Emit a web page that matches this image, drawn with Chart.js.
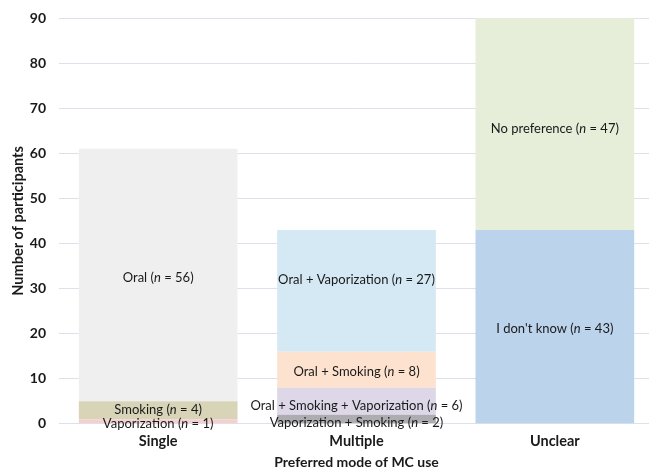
<!DOCTYPE html>
<html>
<head>
<meta charset="utf-8">
<script src="https://cdn.jsdelivr.net/npm/chart.js@4/dist/chart.umd.min.js"></script>
<style>
html,body{margin:0;padding:0;background:#fff;overflow:hidden;}
#wrap{width:649px;height:471px;position:relative;overflow:hidden;}
</style>
</head>
<body>
<div id="wrap"><canvas id="c" width="654" height="471"></canvas></div>
<script>
const categories = ['Single', 'Multiple', 'Unclear'];
const segmentNames = ['Vaporization', 'Smoking', 'Oral',
  'Vaporization + Smoking', 'Oral + Smoking + Vaporization', 'Oral + Smoking', 'Oral + Vaporization',
  "I don't know", 'No preference'];
const segmentValues = [1, 4, 56, 2, 6, 8, 27, 43, 47];
const segmentCategory = [0, 0, 0, 1, 1, 1, 1, 2, 2];
const segmentColors = ['#f5d0d0', '#d8d4b8', '#efefef', '#adacb0', '#ddd7e7', '#fde3cf', '#d4e9f3', '#bcd3ec', '#e6eed9'];
const yTicks = [0, 10, 20, 30, 40, 50, 60, 70, 80, 90];
// label nudges in pixels (style only)
const labelNudge = [2, -1.5, 1.5, 2.5, 3.5, 1, -12, 1, 4];

const FONT = 'Lato, "Open Sans", sans-serif';

const datasets = segmentNames.map((name, i) => {
  const data = categories.map((c, ci) => ci === segmentCategory[i] ? segmentValues[i] : null);
  return {
    label: name,
    data: data,
    backgroundColor: segmentColors[i],
    borderWidth: 0,
    stack: 's',
    barPercentage: 0.8,
    categoryPercentage: 1.0
  };
});

const labelPlugin = {
  id: 'segLabels',
  afterDatasetsDraw(chart) {
    const ctx = chart.ctx;
    ctx.save();
    ctx.fillStyle = '#1a1a1a';
    ctx.textBaseline = 'middle';
    chart.data.datasets.forEach((ds, di) => {
      const meta = chart.getDatasetMeta(di);
      const ci = segmentCategory[di];
      const el = meta.data[ci];
      if (!el) return;
      const cx = el.x;
      const cy = (el.y + el.base) / 2 + 1 + labelNudge[di];
      const sz = 13;
      const parts = [
        {t: segmentNames[di] + ' (', f: sz + 'px ' + FONT},
        {t: 'n', f: 'italic ' + sz + 'px ' + FONT},
        {t: ' = ' + segmentValues[di] + ')', f: sz + 'px ' + FONT}
      ];
      let w = 0;
      parts.forEach(p => { ctx.font = p.f; p.w = ctx.measureText(p.t).width; w += p.w; });
      let x = cx - w / 2;
      ctx.textAlign = 'left';
      parts.forEach(p => { ctx.font = p.f; ctx.fillText(p.t, x, cy); x += p.w; });
    });
    ctx.restore();
  }
};

new Chart(document.getElementById('c'), {
  type: 'bar',
  data: { labels: categories, datasets: datasets },
  plugins: [labelPlugin],
  options: {
    responsive: false,
    animation: false,
    layout: { padding: { left: 10, right: 0, top: 18, bottom: 0 } },
    plugins: { legend: { display: false }, tooltip: { enabled: false } },
    scales: {
      x: {
        stacked: true,
        grid: { display: false, drawTicks: false },
        border: { display: false },
        ticks: { color: '#1a1a1a', font: { family: FONT, size: 14.5, weight: 'bold' }, padding: 9 },
        title: { display: true, text: 'Preferred mode of MC use', color: '#1a1a1a', font: { family: FONT, size: 14, weight: 'bold' }, padding: { top: -5, bottom: 0 } }
      },
      y: {
        stacked: true,
        min: 0, max: 90,
        afterBuildTicks(axis) { axis.ticks = yTicks.map(v => ({ value: v })); },
        afterFit(axis) { axis.width = 49; axis.paddingTop = 0; axis.paddingBottom = 0; },
        grid: { color: '#dde2ea', lineWidth: 1, drawTicks: false },
        border: { display: false },
        ticks: { color: '#1a1a1a', font: { family: FONT, size: 14, weight: 'bold' }, padding: 13 },
        title: { display: true, text: 'Number of participants', color: '#1a1a1a', font: { family: FONT, size: 14.5, weight: 'bold' }, padding: { top: 0, bottom: 3 } }
      }
    }
  }
});
</script>
</body>
</html>
